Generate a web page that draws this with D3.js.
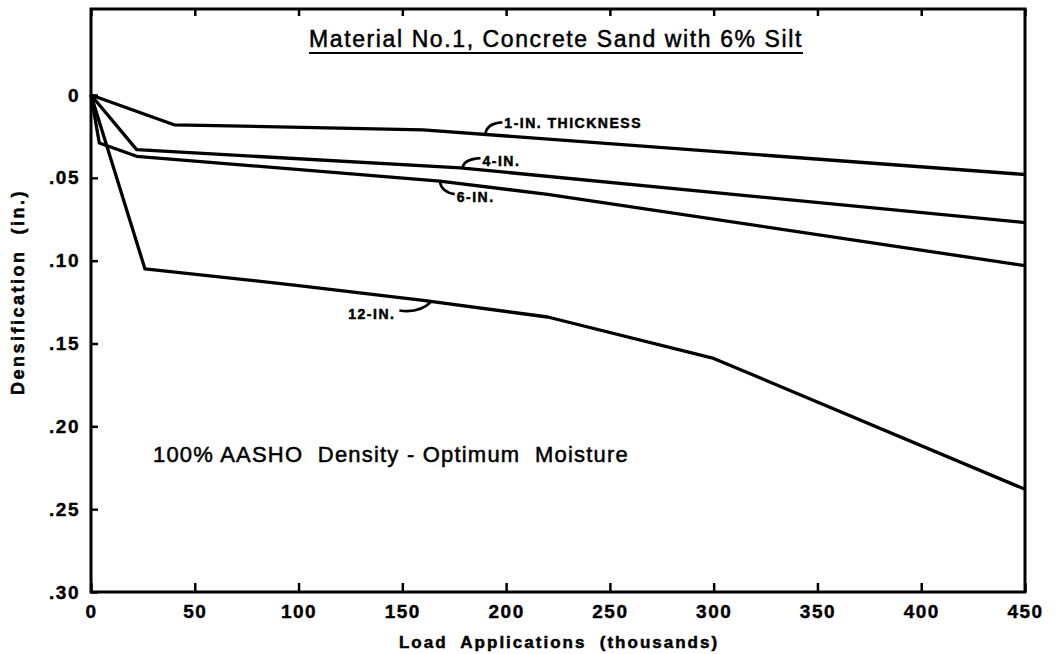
<!DOCTYPE html>
<html>
<head>
<meta charset="utf-8">
<script src="https://cdn.jsdelivr.net/npm/d3@7"></script>
<style>
  body { margin: 0; background: #fff; }
  svg { display: block; }
  text { font-family: "Liberation Sans", Arial, sans-serif; fill: #000; }
  .heavy { stroke: #000; stroke-width: 0.5px; }
  .tick line { stroke: #000; stroke-width: 2.5; }
  .tick text { font-weight: bold; font-size: 19px; letter-spacing: 1.5px; stroke: #000; stroke-width: 0.4px; }
</style>
</head>
<body>
<svg id="chart" width="1061" height="654"></svg>
<script>
// load applications (thousands) and densification (in.) for each thickness
const oneInX = [0, 40, 160, 450];
const oneInY = [0, 0.018, 0.021, 0.048];
const fourInX = [0, 22, 178, 450];
const fourInY = [0, 0.033, 0.044, 0.077];
const sixInX = [0, 4, 22, 168, 220, 450];
const sixInY = [0, 0.029, 0.037, 0.052, 0.060, 0.103];
const twelveInX = [0, 26, 100, 160, 220, 300, 450];
const twelveInY = [0, 0.105, 0.115, 0.124, 0.134, 0.159, 0.238];

const xTicks = [0, 50, 100, 150, 200, 250, 300, 350, 400, 450];
const yTicks = [0, 0.05, 0.10, 0.15, 0.20, 0.25, 0.30];
const yTickLabels = ['0', '.05', '.10', '.15', '.20', '.25', '.30'];

const seriesNames = ['1-IN. THICKNESS', '4-IN.', '6-IN.', '12-IN.'];
const labelAt = [190, 179, 168, 164]; // x position (thousands) where each leader touches its line

const series = [
  { x: oneInX, y: oneInY },
  { x: fourInX, y: fourInY },
  { x: sixInX, y: sixInY },
  { x: twelveInX, y: twelveInY },
].map((s, i) => ({ name: seriesNames[i], points: s.x.map((v, j) => [v, s.y[j]]) }));

const svg = d3.select('#chart');

const x = d3.scaleLinear().domain([0, 450]).range([91, 1025]);
const y = d3.scaleLinear().domain([0, 0.30]).range([95, 592]);
const frameTop = 9;

// ticks
svg.append('g')
  .attr('transform', `translate(0,${y(0.30)})`)
  .call(d3.axisBottom(x).tickValues(xTicks).tickSizeInner(-9).tickSizeOuter(0).tickPadding(13))
  .call((g) => g.select('.domain').remove());

svg.append('g')
  .attr('transform', `translate(0,${frameTop})`)
  .call(d3.axisTop(x).tickValues(xTicks).tickSizeInner(-7).tickSizeOuter(0).tickFormat(''))
  .call((g) => g.select('.domain').remove());

svg.append('g')
  .attr('transform', `translate(${x(0)},0)`)
  .call(d3.axisLeft(y).tickValues(yTicks).tickSizeInner(-7).tickSizeOuter(0).tickPadding(11)
    .tickFormat((d, i) => yTickLabels[i]))
  .call((g) => g.select('.domain').remove());

// frame
svg.append('rect')
  .attr('x', x(0))
  .attr('y', frameTop)
  .attr('width', x(450) - x(0))
  .attr('height', y(0.30) - frameTop)
  .attr('fill', 'none')
  .attr('stroke', '#000')
  .attr('stroke-width', 3);

// curves
const line = d3.line().x((d) => x(d[0])).y((d) => y(d[1]));

svg.append('g')
  .selectAll('path')
  .data(series)
  .join('path')
  .attr('d', (d) => line(d.points))
  .attr('fill', 'none')
  .attr('stroke', '#000')
  .attr('stroke-width', 3.3)
  .attr('stroke-linejoin', 'round');

function valueAt(points, v) {
  for (let i = 1; i < points.length; i++) {
    if (v <= points[i][0]) {
      const [x0, y0] = points[i - 1];
      const [x1, y1] = points[i];
      return y0 + ((v - x0) / (x1 - x0)) * (y1 - y0);
    }
  }
  return points[points.length - 1][1];
}

// hooked leaders: [control dx, control dy, end dx, end dy, text dx, text dy, anchor]
const leaderShapes = [
  [1, -11, 17, -12, 19, -6, 'start'],
  [1, -9, 18, -10, 20, -2, 'start'],
  [2, 11, 15, 13, 17, 21, 'start'],
  [-12, 12, -32, 9, -36, 17, 'end'],
];

const ann = svg.append('g');
series.forEach((s, i) => {
  const px = x(labelAt[i]);
  const py = y(valueAt(s.points, labelAt[i]));
  const [cx, cy, ex, ey, tx, ty, anchor] = leaderShapes[i];
  ann.append('path')
    .attr('d', `M${px},${py} Q${px + cx},${py + cy} ${px + ex},${py + ey}`)
    .attr('fill', 'none')
    .attr('stroke', '#000')
    .attr('stroke-width', 2.6);
  ann.append('text')
    .attr('class', 'heavy')
    .attr('x', px + tx)
    .attr('y', py + ty)
    .attr('text-anchor', anchor)
    .style('font-size', '14px')
    .style('font-weight', 'bold')
    .style('letter-spacing', '1.5px')
    .text(s.name);
});

// title
const title = svg.append('text')
  .attr('class', 'heavy')
  .attr('x', 556)
  .attr('y', 47)
  .attr('text-anchor', 'middle')
  .style('font-size', '23px')
  .style('letter-spacing', '1.6px')
  .text('Material No.1, Concrete Sand with 6% Silt');
const tb = title.node().getBBox();
svg.append('line')
  .attr('x1', tb.x).attr('x2', tb.x + tb.width)
  .attr('y1', 53).attr('y2', 53)
  .attr('stroke', '#000').attr('stroke-width', 2);

svg.append('text')
  .attr('class', 'heavy')
  .attr('x', 153)
  .attr('y', 462)
  .style('font-size', '22px')
  .style('letter-spacing', '1.2px')
  .attr('xml:space', 'preserve')
  .text('100% AASHO  Density - Optimum  Moisture');

// axis titles
svg.append('text')
  .attr('class', 'heavy')
  .attr('x', 559)
  .attr('y', 648)
  .attr('text-anchor', 'middle')
  .style('font-size', '17px')
  .style('font-weight', 'bold')
  .style('letter-spacing', '2px')
  .attr('xml:space', 'preserve')
  .text('Load  Applications  (thousands)');

svg.append('text')
  .attr('class', 'heavy')
  .attr('transform', 'translate(24,292) rotate(-90)')
  .attr('text-anchor', 'middle')
  .style('font-size', '18px')
  .style('font-weight', 'bold')
  .style('letter-spacing', '2.5px')
  .attr('xml:space', 'preserve')
  .text('Densification  (in.)');
</script>
</body>
</html>
